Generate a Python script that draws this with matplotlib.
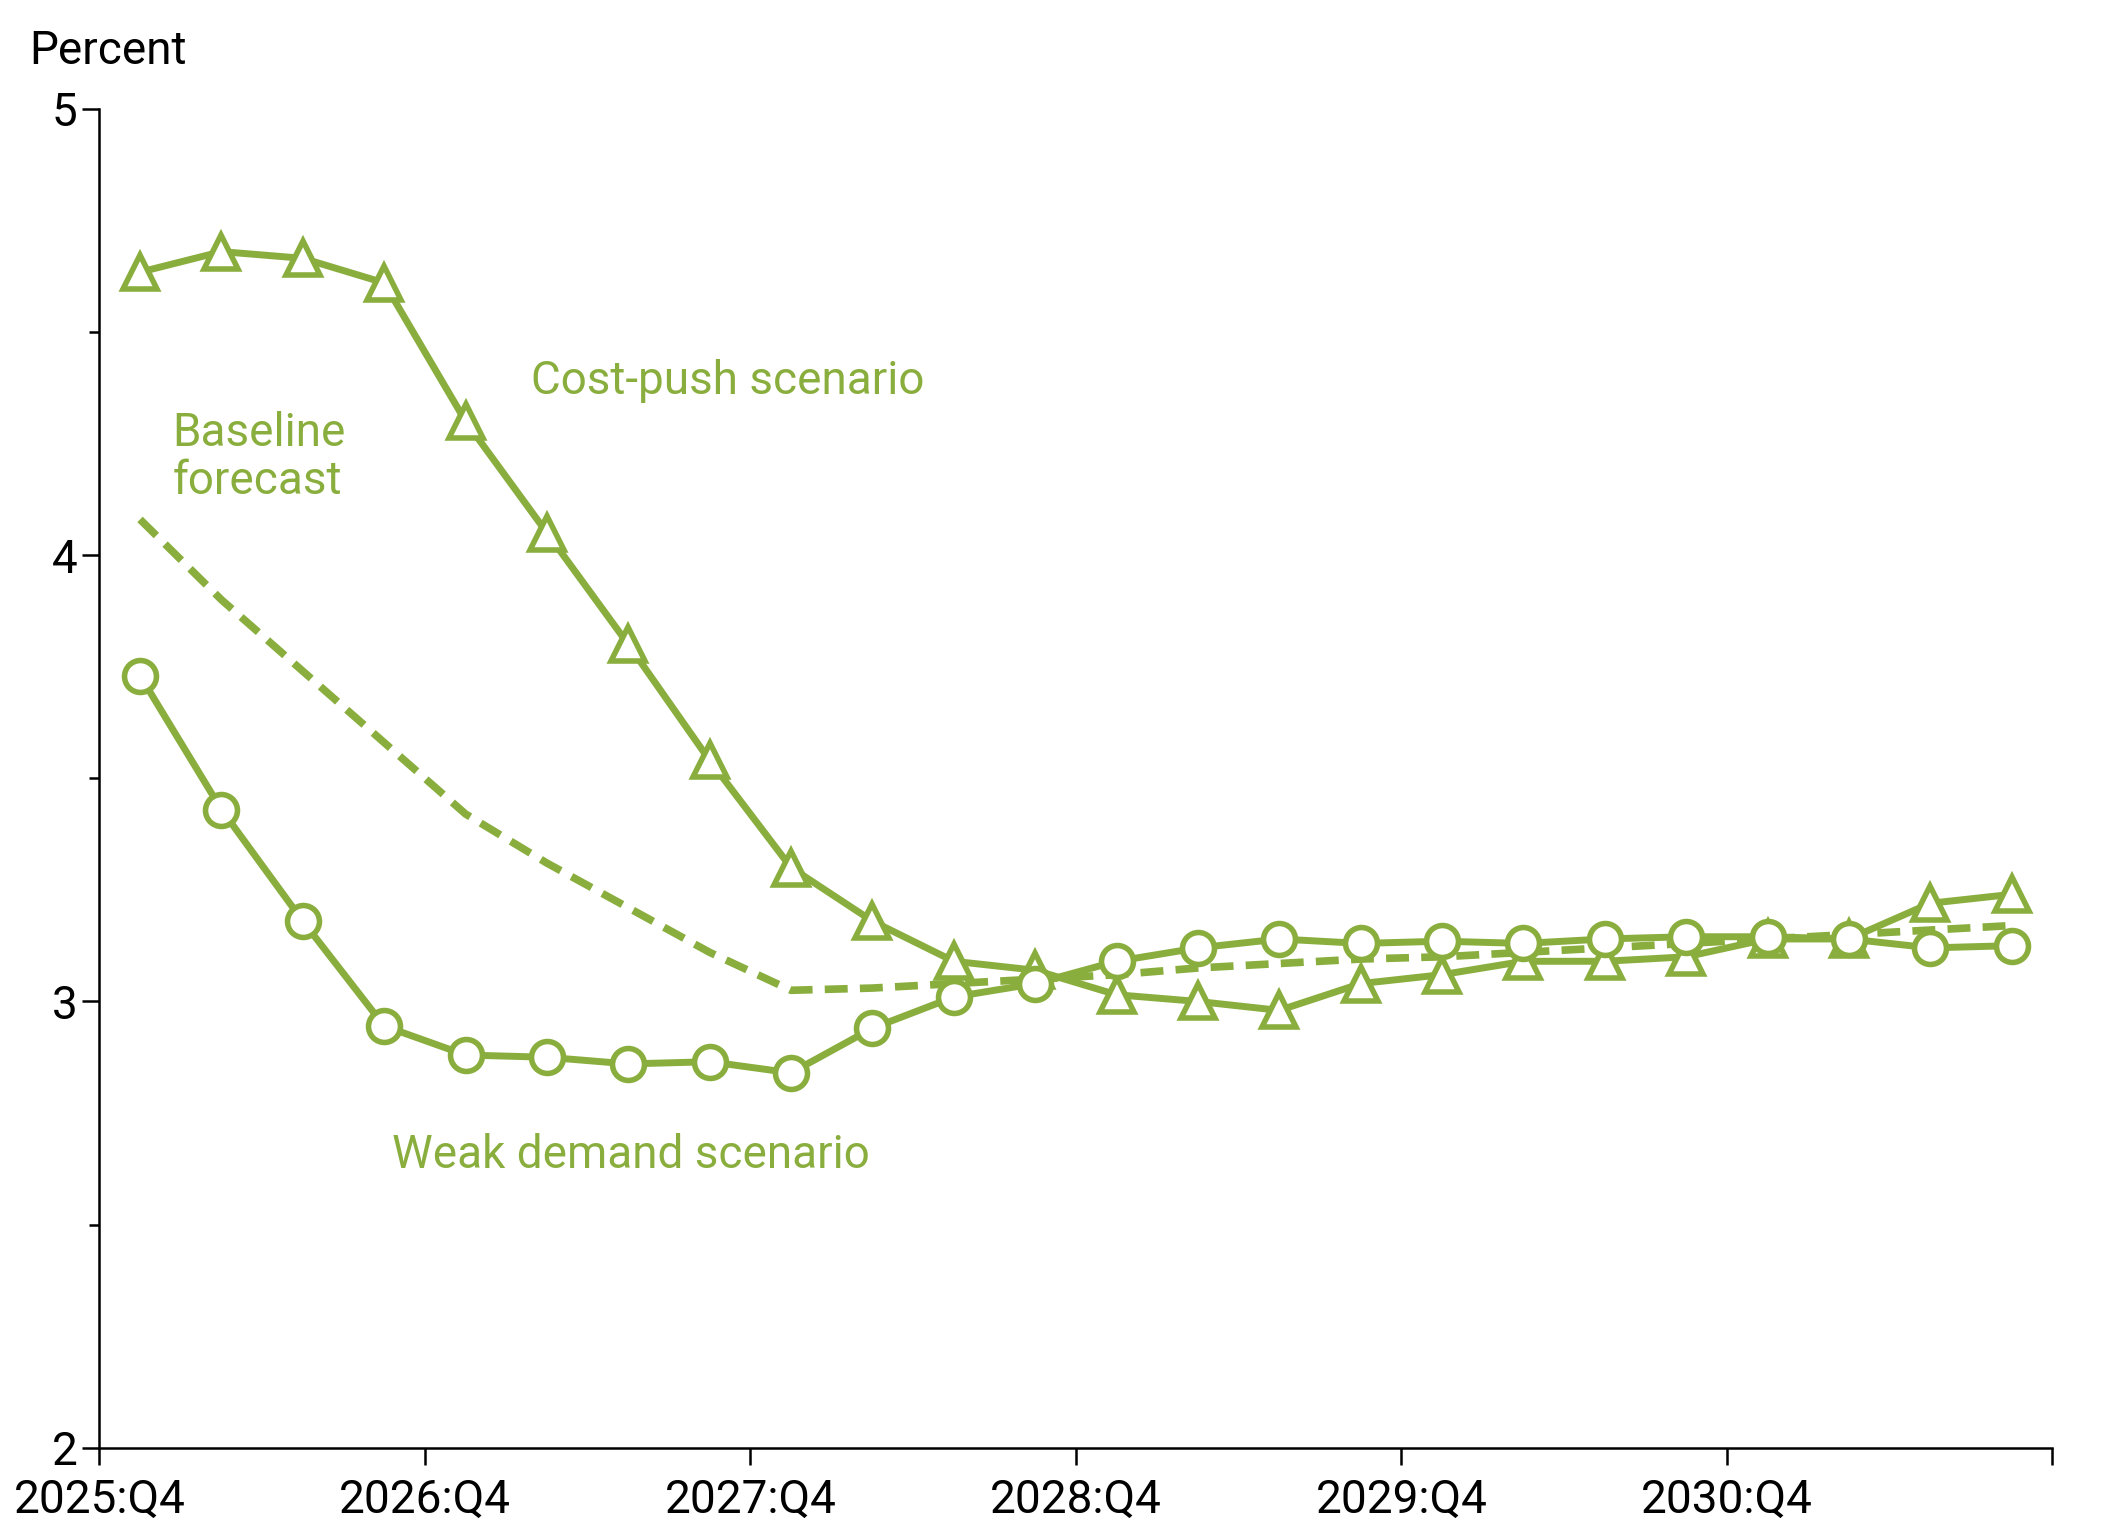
import matplotlib
matplotlib.use("Agg")
import matplotlib.pyplot as plt
import numpy as np

plt.rcParams['font.family'] = ['Roboto', 'DejaVu Sans']

cost_push = [4.634,4.68,4.665,4.61,4.30,4.05,3.80,3.54,3.30,3.18,3.09,3.07,3.015,3.00,2.98,3.04,3.06,3.09,3.09,3.10,3.14,3.14,3.22,3.24]
weak_demand = [3.73,3.43,3.18,2.945,2.88,2.875,2.86,2.865,2.84,2.94,3.01,3.04,3.09,3.12,3.14,3.13,3.135,3.13,3.14,3.145,3.145,3.14,3.12,3.125]
baseline = [4.08,3.90,3.74,3.58,3.42,3.31,3.21,3.11,3.025,3.03,3.04,3.05,3.06,3.075,3.085,3.095,3.10,3.11,3.12,3.13,3.14,3.15,3.16,3.17]
tick_labels = ["2025:Q4","2026:Q4","2027:Q4","2028:Q4","2029:Q4","2030:Q4",""]

c = "#8aae3e"
fig = plt.figure(figsize=(21.05,15.28), dpi=100)
ax = fig.add_axes([0.0472,0.0525,0.9278,0.8763])
x = np.arange(len(cost_push)) + 0.5
ax.plot(x, baseline, color=c, lw=5.5, ls=(0,(3,1.6)))
ax.plot(x, cost_push, color=c, lw=5, marker='^', ms=24, mfc='white', mec=c, mew=4)
ax.plot(x, weak_demand, color=c, lw=5, marker='o', ms=23, mfc='white', mec=c, mew=4)

ax.set_xlim(0,24); ax.set_ylim(2,5)
ax.set_xticks(np.arange(0,25,4)); ax.set_xticklabels(tick_labels)
ax.set_yticks([2,3,4,5]); ax.set_yticks([2.5,3.5,4.5], minor=True)
ax.tick_params(labelsize=33, length=12, width=1.8, direction='out')
ax.tick_params(axis='y', which='minor', length=7, width=1.8)
ax.tick_params(axis='x', pad=10)
for s in ['top','right']: ax.spines[s].set_visible(False)
for s in ['left','bottom']: ax.spines[s].set_linewidth(1.8)
fig.text(0.014, 0.958, "Percent", fontsize=33)
ax.text(5.3, 4.39, "Cost-push scenario", color=c, fontsize=33, va='center')
ax.text(0.9, 4.22, "Baseline\nforecast", color=c, fontsize=33, va='center', linespacing=1.1)
ax.text(3.6, 2.655, "Weak demand scenario", color=c, fontsize=33, va='center')
fig.savefig("out.png", dpi=100)
